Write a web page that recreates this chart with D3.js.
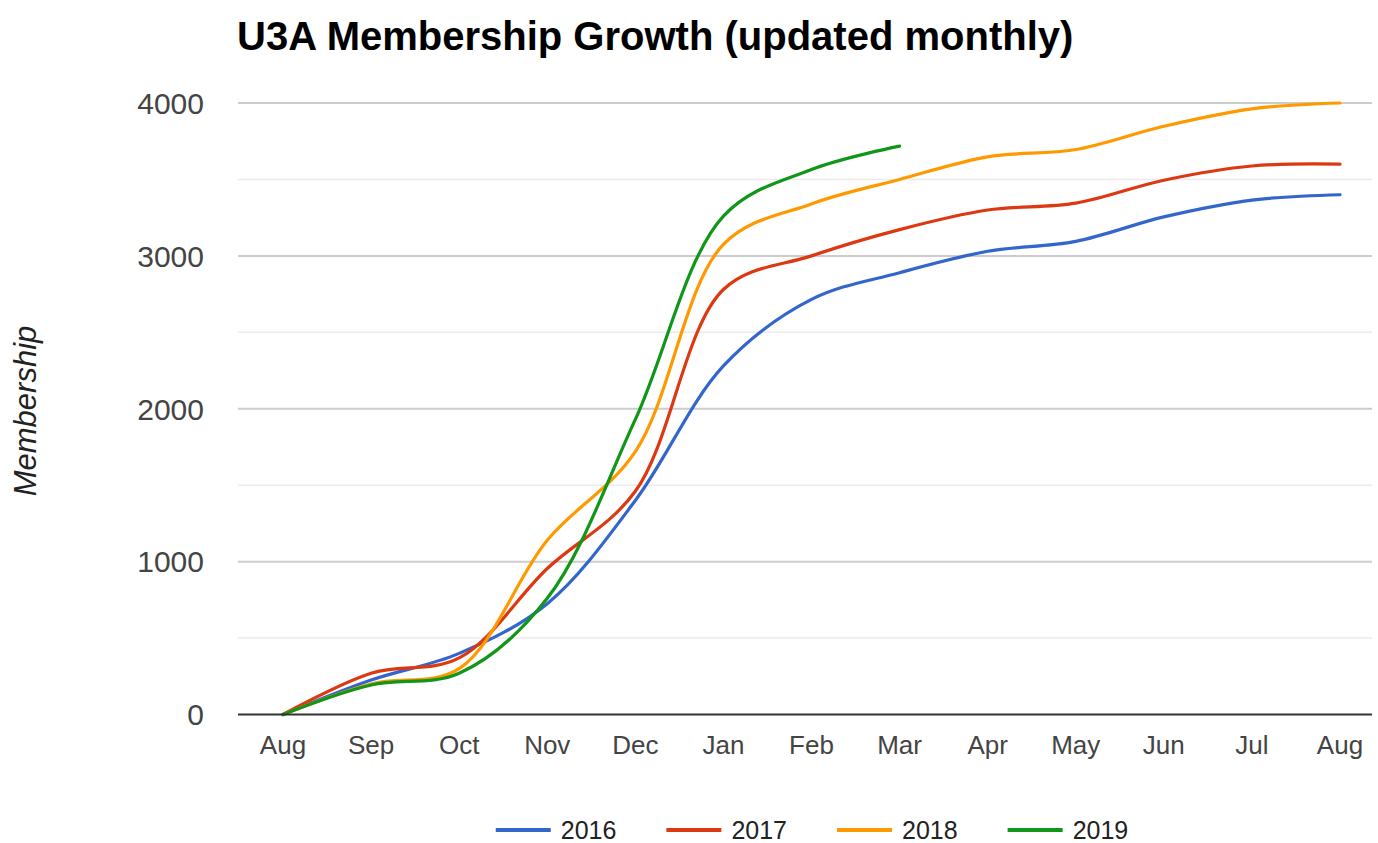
<!DOCTYPE html>
<html>
<head>
<meta charset="utf-8">
<script src="https://cdnjs.cloudflare.com/ajax/libs/d3/7.8.5/d3.min.js"></script>
<style>
  body { margin: 0; background: #fff; }
  svg { font-family: "Liberation Sans", Arial, sans-serif; display: block; }
</style>
</head>
<body>
<div id="chartCt"></div>
<script>
// data
const months = ["Aug", "Sep", "Oct", "Nov", "Dec", "Jan", "Feb", "Mar", "Apr", "May", "Jun", "Jul", "Aug"];
const seriesNames = ["2016", "2017", "2018", "2019"];
const members2016 = [0, 225, 400, 725, 1400, 2280, 2715, 2890, 3030, 3095, 3255, 3365, 3400];
const members2017 = [0, 270, 370, 955, 1460, 2780, 3000, 3172, 3300, 3345, 3495, 3588, 3600];
const members2018 = [0, 200, 300, 1140, 1720, 3075, 3340, 3500, 3648, 3696, 3848, 3962, 4000];
const members2019 = [0, 193, 270, 760, 1930, 3260, 3565, 3718];
const majorTicks = [0, 1000, 2000, 3000, 4000];
const minorTicks = [500, 1500, 2500, 3500];
const colors = ["#3366cc", "#dc3912", "#ff9900", "#109618"];

const width = 1378, height = 843;
const plot = { left: 238, right: 1372, top: 103, bottom: 714.5 };

const svg = d3.select("#chartCt")
    .append("svg")
    .attr("width", width)
    .attr("height", height);

const x = d3.scalePoint()
    .domain(d3.range(months.length))
    .range([283, 1340]);

const y = d3.scaleLinear()
    .domain([0, 4000])
    .range([plot.bottom, plot.top]);

// minor grid
svg.append("g")
    .selectAll("line")
    .data(minorTicks)
    .enter().append("line")
    .attr("x1", plot.left).attr("x2", plot.right)
    .attr("y1", d => y(d)).attr("y2", d => y(d))
    .attr("stroke", "#ebebeb")
    .attr("stroke-width", 1.5);

// major grid
svg.append("g")
    .selectAll("line")
    .data(majorTicks.filter(d => d > 0))
    .enter().append("line")
    .attr("x1", plot.left).attr("x2", plot.right)
    .attr("y1", d => y(d)).attr("y2", d => y(d))
    .attr("stroke", "#cccccc")
    .attr("stroke-width", 2);

// y tick labels
svg.append("g")
    .selectAll("text")
    .data(majorTicks)
    .enter().append("text")
    .attr("x", 204)
    .attr("y", d => y(d))
    .attr("dy", "0.36em")
    .attr("text-anchor", "end")
    .attr("font-size", 30)
    .attr("fill", "#444")
    .text(d => d);

// x labels
svg.append("g")
    .selectAll("text")
    .data(months)
    .enter().append("text")
    .attr("x", (d, i) => x(i))
    .attr("y", 754)
    .attr("text-anchor", "middle")
    .attr("font-size", 26)
    .attr("fill", "#444")
    .text(d => d);

// lines
const allSeries = [members2016, members2017, members2018, members2019];
const line = d3.line()
    .x((d, i) => x(i))
    .y(d => y(d))
    .curve(d3.curveCatmullRom.alpha(0.5));

svg.append("g")
    .selectAll("path")
    .data(allSeries)
    .enter().append("path")
    .attr("d", line)
    .attr("fill", "none")
    .attr("stroke", (d, i) => colors[i])
    .attr("stroke-width", 3.2)
    .attr("stroke-linejoin", "round")
    .attr("stroke-linecap", "round");

// baseline
svg.append("line")
    .attr("x1", plot.left).attr("x2", plot.right)
    .attr("y1", y(0)).attr("y2", y(0))
    .attr("stroke", "#333")
    .attr("stroke-width", 2);

// title
svg.append("text")
    .attr("x", 237)
    .attr("y", 50)
    .attr("font-size", 40)
    .attr("font-weight", "bold")
    .attr("fill", "#000")
    .text("U3A Membership Growth (updated monthly)");

// y axis title
svg.append("text")
    .attr("transform", "translate(36, 411) rotate(-90)")
    .attr("text-anchor", "middle")
    .attr("font-size", 31)
    .attr("font-style", "italic")
    .attr("fill", "#222")
    .text("Membership");

// legend
const legend = svg.append("g");
const lineLen = 55, gap = 10, itemGap = 50;
let lx = 0;
seriesNames.forEach((name, i) => {
    const g = legend.append("g");
    g.append("line")
        .attr("x1", 0).attr("x2", lineLen)
        .attr("y1", 830).attr("y2", 830)
        .attr("stroke", colors[i])
        .attr("stroke-width", 4);
    const t = g.append("text")
        .attr("x", lineLen + gap)
        .attr("y", 839)
        .attr("font-size", 25)
        .attr("fill", "#222")
        .text(name);
    const w = lineLen + gap + t.node().getComputedTextLength();
    g.attr("transform", `translate(${lx},0)`);
    lx += w + itemGap;
});
const totalW = lx - itemGap;
legend.attr("transform", `translate(${(plot.left + plot.right) / 2 - totalW / 2 + 7},0)`);
</script>
</body>
</html>
